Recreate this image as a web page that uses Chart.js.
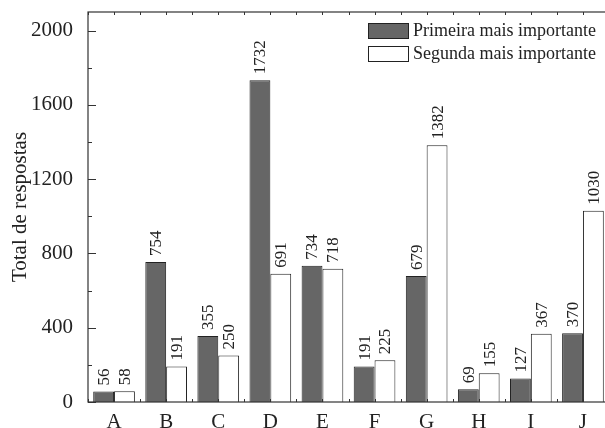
<!DOCTYPE html>
<html>
<head>
<meta charset="utf-8">
<script src="https://cdn.jsdelivr.net/npm/chart.js@4.4.1/dist/chart.umd.min.js"></script>
<style>
  html, body { margin: 0; padding: 0; background: #fff; overflow: hidden; }
  #wrap { width: 612px; height: 428px; }
</style>
</head>
<body>
<div id="wrap"><canvas id="barChart" width="612" height="428"></canvas></div>
<script>
// categories and values
var categorias = ['A', 'B', 'C', 'D', 'E', 'F', 'G', 'H', 'I', 'J'];
var primeira = [56, 754, 355, 1732, 734, 191, 679, 69, 127, 370];
var segunda = [58, 191, 250, 691, 718, 225, 1382, 155, 367, 1030];
var yTicks = [0, 400, 800, 1200, 1600, 2000];
var legendas = ['Primeira mais importante', 'Segunda mais importante'];

var serif = '"Liberation Serif", "Times New Roman", serif';

// frame + inward ticks, like the origin plot
var frameTicks = {
  id: 'frameTicks',
  afterDraw: function (chart) {
    var ctx = chart.ctx, a = chart.chartArea;
    var y = chart.scales.y;
    ctx.save();
    ctx.strokeStyle = '#333';
    ctx.lineWidth = 1.2;
    ctx.strokeRect(a.left, a.top, a.right - a.left, a.bottom - a.top);
    ctx.lineWidth = 1;
    for (var v = 0; v <= 2100; v += 200) {
      var py = Math.round(y.getPixelForValue(v)) + 0.5;
      var len = (v % 400 === 0) ? 8 : 4;
      ctx.beginPath();
      ctx.moveTo(a.left, py); ctx.lineTo(a.left + len, py);
      ctx.stroke();
    }
    var step = (a.right - a.left) / categorias.length;
    for (var i = 0; i <= categorias.length * 2; i++) {
      var px = Math.round(a.left + i * step / 2) + 0.5;
      ctx.beginPath();
      ctx.moveTo(px, a.top); ctx.lineTo(px, a.top + 3);
      ctx.moveTo(px, a.bottom); ctx.lineTo(px, a.bottom - 3);
      ctx.stroke();
    }
    ctx.restore();
  }
};

// rotated value labels on top of each bar
var valores = {
  id: 'valores',
  afterDatasetsDraw: function (chart) {
    var ctx = chart.ctx;
    chart.data.datasets.forEach(function (ds, di) {
      chart.getDatasetMeta(di).data.forEach(function (bar, i) {
        ctx.save();
        ctx.font = '17px ' + serif;
        ctx.fillStyle = '#222';
        ctx.textAlign = 'left';
        ctx.textBaseline = 'middle';
        ctx.translate(bar.x, bar.y - 6);
        ctx.rotate(-Math.PI / 2);
        ctx.fillText(String(ds.data[i]), 0, 1);
        ctx.restore();
      });
    });
  }
};

// legend inside the plot, top right
var legendaBox = {
  id: 'legendaBox',
  afterDraw: function (chart) {
    var ctx = chart.ctx;
    ctx.save();
    ctx.font = '18px ' + serif;
    ctx.textBaseline = 'middle';
    chart.data.datasets.forEach(function (ds, i) {
      var top = 23 + i * 23;
      ctx.fillStyle = ds.backgroundColor;
      ctx.fillRect(368, top, 40, 15);
      ctx.strokeStyle = '#222';
      ctx.lineWidth = 1;
      ctx.strokeRect(368.5, top + 0.5, 40, 15);
      ctx.fillStyle = '#222';
      ctx.fillText(ds.label, 413, top + 8);
    });
    ctx.restore();
  }
};

var chart = new Chart('barChart', {
  type: 'bar',
  data: {
    labels: categorias,
    datasets: [
      { label: legendas[0], data: primeira, backgroundColor: '#666666', borderColor: '#222', borderWidth: 1 },
      { label: legendas[1], data: segunda, backgroundColor: '#ffffff', borderColor: '#222', borderWidth: 1 }
    ]
  },
  options: {
    responsive: false,
    animation: false,
    categoryPercentage: 0.8,
    barPercentage: 1.0,
    layout: { padding: { top: 12, right: 3, left: 0, bottom: 0 } },
    plugins: { legend: { display: false }, tooltip: { enabled: false } },
    scales: {
      x: {
        grid: { display: false },
        border: { display: false },
        ticks: { font: { family: serif, size: 21 }, color: '#222', padding: 0 },
        afterFit: function (s) { s.height = 26; s.paddingLeft = 0; s.paddingRight = 0; }
      },
      y: {
        min: 0, max: 2100,
        afterBuildTicks: function (s) { s.ticks = yTicks.map(function (v) { return { value: v }; }); },
        grid: { display: false },
        border: { display: false },
        ticks: {
          font: { family: serif, size: 21 }, color: '#222', padding: 7,
          callback: function (v) { return String(v); }
        },
        title: { display: true, text: 'Total de respostas', font: { family: serif, size: 21 }, color: '#222', padding: { top: 8, bottom: 0 } },
        afterFit: function (s) { s.width = 88; s.paddingTop = 0; s.paddingBottom = 0; }
      }
    }
  },
  plugins: [frameTicks, valores, legendaBox]
});
</script>
</body>
</html>
